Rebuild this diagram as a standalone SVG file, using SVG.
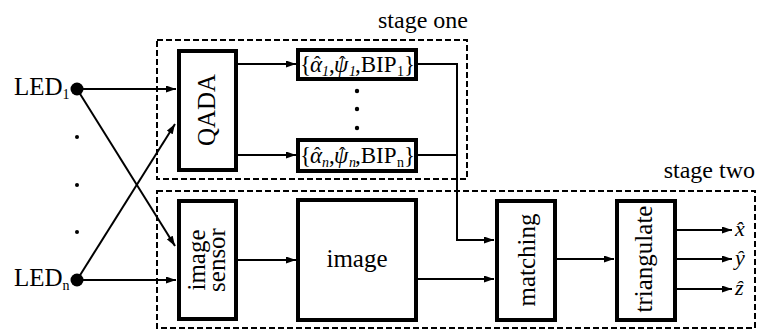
<svg xmlns="http://www.w3.org/2000/svg" width="759" height="329" viewBox="0 0 759 329">
<style>
text{font-family:"Liberation Serif","Times New Roman",serif;fill:#000}
.box{fill:#fff;stroke:#000;stroke-width:4}
.stage{fill:none;stroke:#000;stroke-width:2;stroke-dasharray:6,3}
.ln{fill:none;stroke:#000;stroke-width:2}
.lbl{font-size:25px}
.sub{font-size:14px}
.m{font-size:23px}
.i{font-style:italic}
.s{font-size:14px}
.hat{font-size:20px;font-style:normal}
</style>
<defs>
<marker id="ah" markerUnits="userSpaceOnUse" markerWidth="10" markerHeight="7" refX="10" refY="3.5" orient="auto">
<path d="M0,0 L10,3.5 L0,7 z" fill="#000"/>
</marker>
</defs>
<rect width="759" height="329" fill="#fff"/>
<g id="stage-one">
<rect class="stage" x="157" y="40" width="310" height="139"/>
<text x="468" y="28" font-size="24" text-anchor="end">stage one</text>
</g>
<g id="stage-two">
<rect class="stage" x="157" y="191" width="598" height="137"/>
<text x="755" y="178" font-size="24" text-anchor="end">stage two</text>
</g>
<g id="led1">
<circle cx="77" cy="89" r="6.5" fill="#000"/>
<text x="14" y="95" class="lbl">LED<tspan class="sub" dy="4">1</tspan></text>
</g>
<g id="ledn">
<circle cx="77" cy="280" r="6.5" fill="#000"/>
<text x="14" y="286" class="lbl">LED<tspan class="sub" dy="4">n</tspan></text>
</g>
<g id="led-dots" fill="#000">
<circle cx="77" cy="137" r="2"/>
<circle cx="77" cy="185" r="2"/>
<circle cx="77" cy="232" r="2"/>
</g>
<g id="qada">
<rect class="box" x="179" y="51" width="57" height="119"/>
<text class="lbl" transform="translate(215,110) rotate(-90)" text-anchor="middle">QADA</text>
</g>
<g id="bip1">
<rect class="box" x="298" y="50" width="118" height="29"/>
<text class="m"><tspan x="300" y="72">{</tspan><tspan class="i" x="310" y="72">α</tspan><tspan class="hat" x="314" y="71">ˆ</tspan><tspan class="i s" x="322" y="76">1</tspan><tspan x="329" y="72">,</tspan><tspan class="i" x="334" y="72">ψ</tspan><tspan class="hat" x="339" y="71">ˆ</tspan><tspan class="i s" x="349" y="76">1</tspan><tspan x="355" y="72">,BIP</tspan><tspan class="s" x="397" y="76">1</tspan><tspan x="404" y="72">}</tspan></text>
</g>
<g id="bip-dots" fill="#000">
<circle cx="357" cy="91" r="2.2"/>
<circle cx="357" cy="109" r="2.2"/>
<circle cx="357" cy="128" r="2.2"/>
</g>
<g id="bipn">
<rect class="box" x="298" y="140" width="118" height="31"/>
<text class="m"><tspan x="300" y="163">{</tspan><tspan class="i" x="310" y="163">α</tspan><tspan class="hat" x="314" y="162">ˆ</tspan><tspan class="i s" x="322" y="167">n</tspan><tspan x="329" y="163">,</tspan><tspan class="i" x="334" y="163">ψ</tspan><tspan class="hat" x="339" y="162">ˆ</tspan><tspan class="i s" x="349" y="167">n</tspan><tspan x="355" y="163">,BIP</tspan><tspan class="s" x="397" y="167">n</tspan><tspan x="404" y="163">}</tspan></text>
</g>
<g id="image-sensor">
<rect class="box" x="179" y="201" width="57" height="118"/>
<text class="lbl" transform="translate(207,260) rotate(-90)" text-anchor="middle"><tspan x="0" dy="-2">image</tspan><tspan x="0" dy="20">sensor</tspan></text>
</g>
<g id="image">
<rect class="box" x="298" y="200" width="118" height="120"/>
<text class="lbl" x="357" y="267" text-anchor="middle">image</text>
</g>
<g id="matching">
<rect class="box" x="497" y="201" width="58" height="119"/>
<text class="lbl" transform="translate(535,260) rotate(-90)" text-anchor="middle">matching</text>
</g>
<g id="triangulate">
<rect class="box" x="617" y="201" width="58" height="119"/>
<text class="lbl" transform="translate(652,259) rotate(-90)" text-anchor="middle">triangulate</text>
</g>
<g id="outputs" font-size="22" font-style="italic">
<text x="735" y="236">x̂</text>
<text x="735" y="265">ŷ</text>
<text x="735" y="295">ẑ</text>
</g>
<g id="connectors">
<line class="ln" x1="77" y1="89" x2="176" y2="89" marker-end="url(#ah)"/>
<line class="ln" x1="77" y1="89" x2="175" y2="246" marker-end="url(#ah)"/>
<line class="ln" x1="77" y1="280" x2="176" y2="280" marker-end="url(#ah)"/>
<line class="ln" x1="77" y1="280" x2="175" y2="124" marker-end="url(#ah)"/>
<line class="ln" x1="238" y1="64" x2="296" y2="64" marker-end="url(#ah)"/>
<line class="ln" x1="238" y1="155" x2="296" y2="155" marker-end="url(#ah)"/>
<polyline class="ln" points="418,64 457,64 457,240 494,240" marker-end="url(#ah)"/>
<line class="ln" x1="418" y1="155" x2="457" y2="155"/>
<line class="ln" x1="238" y1="260" x2="296" y2="260" marker-end="url(#ah)"/>
<line class="ln" x1="418" y1="279" x2="494" y2="279" marker-end="url(#ah)"/>
<line class="ln" x1="557" y1="259" x2="614" y2="259" marker-end="url(#ah)"/>
<line class="ln" x1="677" y1="230" x2="732" y2="230" marker-end="url(#ah)"/>
<line class="ln" x1="677" y1="259" x2="732" y2="259" marker-end="url(#ah)"/>
<line class="ln" x1="677" y1="289" x2="732" y2="289" marker-end="url(#ah)"/>
</g>
</svg>
